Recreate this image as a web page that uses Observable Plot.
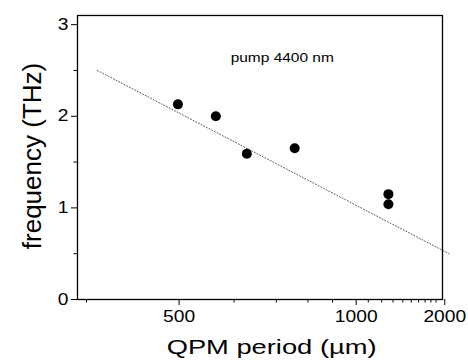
<!DOCTYPE html>
<html><head><meta charset="utf-8">
<script src="https://cdn.jsdelivr.net/npm/d3@7"></script>
<script src="https://cdn.jsdelivr.net/npm/@observablehq/plot@0.6"></script>
<style>body{margin:0;background:#fff} svg{display:block}</style>
</head><body><div id="chart"></div>
<script>
// Measured points (QPM period in µm, frequency in THz)
const periods = [504, 565, 627, 755, 1257, 1257];
const freqs = [2.13, 2.00, 1.59, 1.65, 1.15, 1.04];
// Dotted theory line end points
const fitPeriods = [410, 2207];
const fitFreqs = [2.5, 0.5];
// Ticks
const xMajorTicks = [500, 1000, 2000];
const xMinorTicks = [400, 600, 700, 800, 900, 1100, 1200, 1300, 1400, 1500, 1600, 1700, 1800, 1900];
const yMajorTicks = [0, 1, 2, 3];
const yMinorTicks = [0.5, 1.5, 2.5];
// Texts
const annotation = "pump 4400 nm";
const annotationPeriod = 593;
const annotationFreq = 2.64;
const xTitle = "QPM period (µm)";
const yTitle = "frequency (THz)";

const points = periods.map((p, i) => ({period: p, freq: freqs[i]}));
const fit = fitPeriods.map((p, i) => ({period: p, freq: fitFreqs[i]}));

const chart = Plot.plot({
  width: 468, height: 364,
  marginLeft: 77, marginRight: 26, marginTop: 15, marginBottom: 65,
  style: {fontFamily: "'Liberation Sans', Arial, sans-serif", background: "white", color: "black", overflow: "visible"},
  x: {type: "pow", exponent: -1, domain: [392, 2040], axis: null},
  y: {domain: [0, 3.1], axis: null},
  marks: [
    Plot.axisX(xMinorTicks, {tickSize: 3.5, tickFormat: () => "", label: null}),
    Plot.axisX(xMajorTicks, {tickSize: 6, tickPadding: 5, fontSize: 16, tickFormat: d => String(d), label: null, dx: 4}),
    Plot.axisY(yMinorTicks, {tickSize: 3.5, tickFormat: () => "", label: null}),
    Plot.axisY(yMajorTicks, {tickSize: 6, tickPadding: 3, fontSize: 16, tickFormat: d => String(d), label: null}),
    Plot.frame({stroke: "black", strokeWidth: 1.3}),
    Plot.line(fit, {x: "period", y: "freq", stroke: "#555", strokeWidth: 1, strokeDasharray: "1,2"}),
    Plot.dot(points, {x: "period", y: "freq", r: 5, fill: "black"}),
    Plot.text([annotation], {x: () => annotationPeriod, y: () => annotationFreq, text: d => d, textAnchor: "start", fontSize: 13}),
    Plot.text([xTitle], {frameAnchor: "bottom", text: d => d, textAnchor: "middle", lineAnchor: "middle", dy: 47.8, dx: 11.6, fontSize: 21}),
    Plot.text([yTitle], {frameAnchor: "left", text: d => d, textAnchor: "middle", lineAnchor: "middle", rotate: -90, dx: -44.8, dy: -1.5, fontSize: 26})
  ]
});
document.getElementById("chart").append(chart);

function stretch(el, k) {
  const w = el.getComputedTextLength();
  el.setAttribute("textLength", w * k);
  el.setAttribute("lengthAdjust", "spacingAndGlyphs");
}
d3.select(chart).selectAll('g[aria-label="x-axis tick label"] text, g[aria-label="y-axis tick label"] text')
  .each(function() { if (this.textContent) stretch(this, 1.2); });
d3.select(chart).selectAll("text").each(function() {
  if (this.textContent === xTitle) stretch(this, 1.3);
  if (this.textContent === annotation) stretch(this, 1.19);
});
</script>
</body></html>
